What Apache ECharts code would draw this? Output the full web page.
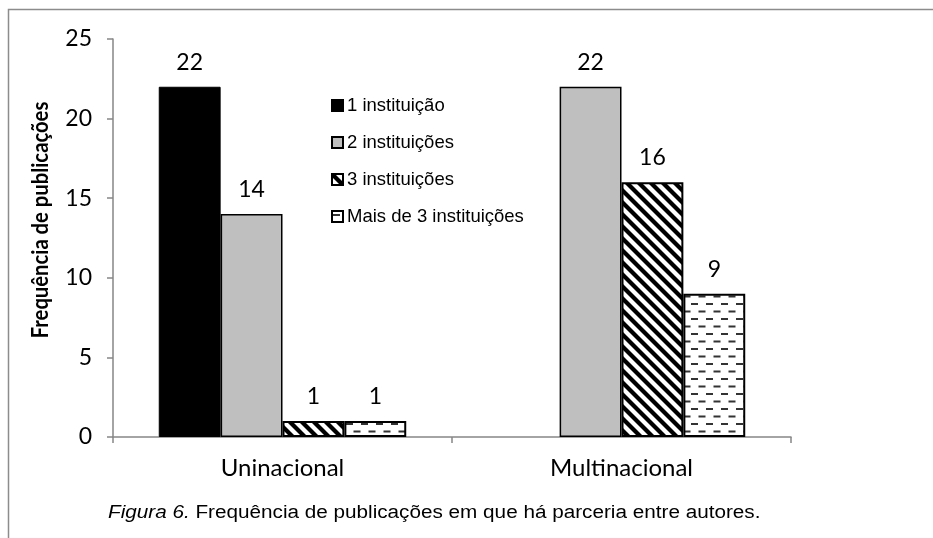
<!DOCTYPE html>
<html>
<head>
<meta charset="utf-8">
<script src="https://cdn.jsdelivr.net/npm/echarts@6/dist/echarts.min.js"></script>
<style>
  html, body { margin: 0; padding: 0; background: #fff; }
  #chart { width: 933px; height: 538px; }
</style>
</head>
<body>
<div id="chart"></div>
<script>
// Categories, series and tick values
const categories = ['Uninacional', 'Multinacional'];
const seriesNames = ['1 instituição', '2 instituições', '3 instituições', 'Mais de 3 instituições'];
const umaInstituicao = [22, null];
const duasInstituicoes = [14, 22];
const tresInstituicoes = [1, 16];
const maisDeTres = [1, 9];
const yTicks = [0, 5, 10, 15, 20, 25];
const yAxisTitle = 'Frequência de publicações';

const chartFont = 'Lato, "Open Sans", sans-serif';
const textFont = '"Liberation Sans", Arial, sans-serif';

// Diagonal hatch fill (\ direction)
function hatchPattern() {
  const s = 12;
  const c = document.createElement('canvas');
  c.width = s; c.height = s;
  const g = c.getContext('2d');
  g.fillStyle = '#fff';
  g.fillRect(0, 0, s, s);
  g.strokeStyle = '#000';
  g.lineWidth = 4.2;
  for (let k = -1; k <= 1; k++) {
    g.beginPath();
    g.moveTo(-2 + k * s, -2);
    g.lineTo(s + 2 + k * s, s + 2);
    g.stroke();
  }
  return c;
}

// Staggered short horizontal dashes
function dashPattern() {
  const w = 15, h = 15;
  const c = document.createElement('canvas');
  c.width = w; c.height = h;
  const g = c.getContext('2d');
  g.fillStyle = '#fff';
  g.fillRect(0, 0, w, h);
  g.fillStyle = '#333';
  g.fillRect(1, 3, 7, 2);
  g.fillRect(8.5, 10.5, 7, 2);
  g.fillRect(-6.5, 10.5, 7, 2);
  return c;
}

const hatchFill = { image: hatchPattern(), repeat: 'repeat' };
const dashFill = { image: dashPattern(), repeat: 'repeat' };

const valueLabel = {
  show: true,
  position: 'top',
  distance: 13,
  fontFamily: chartFont,
  fontSize: 23,
  color: '#000'
};

function barSeries(name, data, fill, borderWidth) {
  return {
    name: name,
    type: 'bar',
    data: data,
    barGap: '0%',
    barCategoryGap: '27%',
    itemStyle: { color: fill, borderColor: '#000', borderWidth: borderWidth },
    label: valueLabel
  };
}

const chart = echarts.init(document.getElementById('chart'), null, { renderer: 'canvas' });

chart.setOption({
  animation: false,
  backgroundColor: '#fff',
  grid: { left: 113, right: 142, top: 39, bottom: 101, containLabel: false },
  legend: {
    orient: 'vertical',
    left: 331,
    top: 96,
    padding: 0,
    itemWidth: 11,
    itemHeight: 11,
    itemGap: 18,
    icon: 'rect',
    textStyle: { fontFamily: textFont, fontSize: 18.5, color: '#000', padding: [0, 0, 0, -1] },
    data: seriesNames
  },
  xAxis: {
    type: 'category',
    data: categories,
    axisLine: { lineStyle: { color: '#868686', width: 1.5 } },
    axisTick: { show: true, length: 6, lineStyle: { color: '#868686', width: 1.5 } },
    axisLabel: { margin: 19, fontFamily: chartFont, fontSize: 24, color: '#000' }
  },
  yAxis: {
    type: 'value',
    min: yTicks[0],
    max: yTicks[yTicks.length - 1],
    interval: yTicks[1] - yTicks[0],
    splitLine: { show: false },
    axisLine: { show: true, lineStyle: { color: '#868686', width: 1.5 } },
    axisTick: { show: true, length: 6, lineStyle: { color: '#868686', width: 1.5 } },
    axisLabel: { margin: 21, fontFamily: chartFont, fontSize: 23, color: '#000' }
  },
  series: [
    barSeries(seriesNames[0], umaInstituicao, '#000', 1),
    barSeries(seriesNames[1], duasInstituicoes, '#bfbfbf', 1.5),
    barSeries(seriesNames[2], tresInstituicoes, hatchFill, 2),
    barSeries(seriesNames[3], maisDeTres, dashFill, 2)
  ],
  graphic: [
    {
      type: 'polyline',
      shape: { points: [[8.5, 538], [8.5, 9.5], [933, 9.5]] },
      style: { stroke: '#8c8c8c', lineWidth: 1.5, fill: null },
      silent: true
    },
    {
      // condensed vertical axis title
      type: 'text',
      x: 41,
      y: 220,
      rotation: Math.PI / 2,
      scaleX: 0.92,
      silent: true,
      style: {
        text: yAxisTitle,
        fontFamily: chartFont,
        fontSize: 22,
        fontWeight: 'bold',
        fill: '#000',
        align: 'center',
        verticalAlign: 'middle'
      }
    },
    {
      type: 'text',
      x: 108,
      y: 513,
      scaleX: 1.15,
      silent: true,
      style: {
        text: '{i|Figura 6.} Frequência de publicações em que há parceria entre autores.',
        rich: {
          i: { fontStyle: 'italic', fontFamily: textFont, fontSize: 18, fill: '#000' }
        },
        fontFamily: textFont,
        fontSize: 18,
        fill: '#000',
        verticalAlign: 'middle'
      }
    }
  ]
});
</script>
</body>
</html>
